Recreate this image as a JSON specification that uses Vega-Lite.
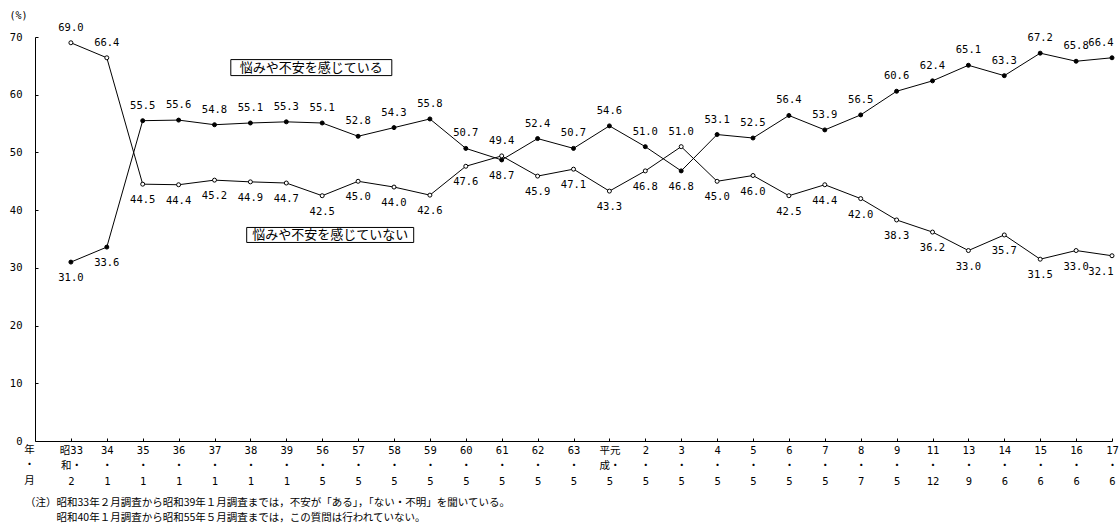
{
  "$schema": "https://vega.github.io/schema/vega-lite/v6.json",
  "width": 1077,
  "height": 404,
  "autosize": "none",
  "padding": {"left": 35, "top": 37, "right": 8, "bottom": 83},
  "background": "white",
  "config": {
    "view": {"stroke": null},
    "font": "DejaVu Sans Mono",
    "axis": {"domainColor": "black", "tickColor": "black", "labelColor": "black", "titleColor": "black", "grid": false}
  },
  "title": {
    "text": ["（注）昭和33年２月調査から昭和39年１月調査までは，不安が「ある」，「ない・不明」を聞いている。", "\u200b\u3000\u3000\u3000昭和40年１月調査から昭和55年５月調査までは，この質問は行われていない。"],
    "orient": "bottom",
    "anchor": "start",
    "frame": "group",
    "font": "Noto Sans CJK JP",
    "fontSize": 10.5,
    "fontWeight": "normal",
    "color": "black",
    "lineHeight": 15,
    "dx": -10,
    "offset": 11
  },
  "data": {
    "values": [
      {"t": "33|2", "s": "感じている", "v": 31.0},
      {"t": "34|1", "s": "感じている", "v": 33.6},
      {"t": "35|1", "s": "感じている", "v": 55.5},
      {"t": "36|1", "s": "感じている", "v": 55.6},
      {"t": "37|1", "s": "感じている", "v": 54.8},
      {"t": "38|1", "s": "感じている", "v": 55.1},
      {"t": "39|1", "s": "感じている", "v": 55.3},
      {"t": "56|5", "s": "感じている", "v": 55.1},
      {"t": "57|5", "s": "感じている", "v": 52.8},
      {"t": "58|5", "s": "感じている", "v": 54.3},
      {"t": "59|5", "s": "感じている", "v": 55.8},
      {"t": "60|5", "s": "感じている", "v": 50.7},
      {"t": "61|5", "s": "感じている", "v": 48.7},
      {"t": "62|5", "s": "感じている", "v": 52.4},
      {"t": "63|5", "s": "感じている", "v": 50.7},
      {"t": "元|5", "s": "感じている", "v": 54.6},
      {"t": "2|5", "s": "感じている", "v": 51.0},
      {"t": "3|5", "s": "感じている", "v": 46.8},
      {"t": "4|5", "s": "感じている", "v": 53.1},
      {"t": "5|5", "s": "感じている", "v": 52.5},
      {"t": "6|5", "s": "感じている", "v": 56.4},
      {"t": "7|5", "s": "感じている", "v": 53.9},
      {"t": "8|7", "s": "感じている", "v": 56.5},
      {"t": "9|5", "s": "感じている", "v": 60.6},
      {"t": "11|12", "s": "感じている", "v": 62.4},
      {"t": "13|9", "s": "感じている", "v": 65.1},
      {"t": "14|6", "s": "感じている", "v": 63.3},
      {"t": "15|6", "s": "感じている", "v": 67.2},
      {"t": "16|6", "s": "感じている", "v": 65.8},
      {"t": "17|6", "s": "感じている", "v": 66.4},
      {"t": "33|2", "s": "感じていない", "v": 69.0},
      {"t": "34|1", "s": "感じていない", "v": 66.4},
      {"t": "35|1", "s": "感じていない", "v": 44.5},
      {"t": "36|1", "s": "感じていない", "v": 44.4},
      {"t": "37|1", "s": "感じていない", "v": 45.2},
      {"t": "38|1", "s": "感じていない", "v": 44.9},
      {"t": "39|1", "s": "感じていない", "v": 44.7},
      {"t": "56|5", "s": "感じていない", "v": 42.5},
      {"t": "57|5", "s": "感じていない", "v": 45.0},
      {"t": "58|5", "s": "感じていない", "v": 44.0},
      {"t": "59|5", "s": "感じていない", "v": 42.6},
      {"t": "60|5", "s": "感じていない", "v": 47.6},
      {"t": "61|5", "s": "感じていない", "v": 49.4},
      {"t": "62|5", "s": "感じていない", "v": 45.9},
      {"t": "63|5", "s": "感じていない", "v": 47.1},
      {"t": "元|5", "s": "感じていない", "v": 43.3},
      {"t": "2|5", "s": "感じていない", "v": 46.8},
      {"t": "3|5", "s": "感じていない", "v": 51.0},
      {"t": "4|5", "s": "感じていない", "v": 45.0},
      {"t": "5|5", "s": "感じていない", "v": 46.0},
      {"t": "6|5", "s": "感じていない", "v": 42.5},
      {"t": "7|5", "s": "感じていない", "v": 44.4},
      {"t": "8|7", "s": "感じていない", "v": 42.0},
      {"t": "9|5", "s": "感じていない", "v": 38.3},
      {"t": "11|12", "s": "感じていない", "v": 36.2},
      {"t": "13|9", "s": "感じていない", "v": 33.0},
      {"t": "14|6", "s": "感じていない", "v": 35.7},
      {"t": "15|6", "s": "感じていない", "v": 31.5},
      {"t": "16|6", "s": "感じていない", "v": 33.0},
      {"t": "17|6", "s": "感じていない", "v": 32.1}
    ]
  },
  "encoding": {
    "x": {
      "field": "t",
      "type": "nominal",
      "sort": null,
      "scale": {"type": "point", "padding": 0.5, "align": 1},
      "axis": {
        "title": ["年", "・", "月"],
        "titleX": -6,
        "titleY": 3,
        "titleAlign": "center",
        "titleBaseline": "top",
        "titleFont": "Noto Sans CJK JP",
        "titleFontSize": 10.5,
        "titleFontWeight": "normal",
        "titleLineHeight": 15.5,
        "labelAngle": 0,
        "labelAlign": "center",
        "labelBaseline": "top",
        "labelFont": "DejaVu Sans Mono, Noto Sans CJK JP",
        "labelFontSize": 10.5,
        "labelLineHeight": 15.5,
        "labelPadding": 7,
        "tickSize": -3,
        "labelExpr": "datum.label == '33|2' ? ['昭33', '和・', '2'] : datum.label == '元|5' ? ['平元', '成・', '5'] : [split(datum.label, '|')[0], '・', split(datum.label, '|')[1]]"
      }
    },
    "y": {
      "field": "v",
      "type": "quantitative",
      "scale": {"domain": [0, 70], "nice": false},
      "axis": {
        "values": [0, 10, 20, 30, 40, 50, 60, 70],
        "title": "(%)",
        "titleAngle": 0,
        "titleX": -17,
        "titleY": -22,
        "titleAlign": "center",
        "titleBaseline": "middle",
        "titleFont": "DejaVu Sans Mono",
        "titleFontSize": 10,
        "titleFontWeight": "normal",
        "labelFontSize": 10.5,
        "labelPadding": 16,
        "tickSize": -3
      }
    }
  },
  "layer": [
    {
      "mark": {"type": "line", "color": "black", "strokeWidth": 1},
      "encoding": {"detail": {"field": "s"}}
    },
    {
      "mark": {"type": "point", "shape": "circle", "size": 16, "filled": true, "stroke": "black", "strokeWidth": 1, "opacity": 1},
      "encoding": {
        "fill": {"field": "s", "type": "nominal", "scale": {"domain": ["感じている", "感じていない"], "range": ["black", "white"]}, "legend": null}
      }
    },
    {
      "transform": [
        {"joinaggregate": [{"op": "max", "field": "v", "as": "vmax"}], "groupby": ["t"]},
        {"filter": "datum.v == datum.vmax && datum.t != '17|6'"}
      ],
      "mark": {"type": "text", "dy": -15, "fontSize": 10.5, "font": "DejaVu Sans Mono", "color": "black", "baseline": "middle"},
      "encoding": {"text": {"field": "v", "format": ".1f"}}
    },
    {
      "transform": [
        {"joinaggregate": [{"op": "max", "field": "v", "as": "vmax"}], "groupby": ["t"]},
        {"filter": "datum.v < datum.vmax && datum.t != '17|6'"}
      ],
      "mark": {"type": "text", "dy": 16, "fontSize": 10.5, "font": "DejaVu Sans Mono", "color": "black", "baseline": "middle"},
      "encoding": {"text": {"field": "v", "format": ".1f"}}
    },
    {
      "transform": [
        {"joinaggregate": [{"op": "max", "field": "v", "as": "vmax"}], "groupby": ["t"]},
        {"filter": "datum.v == datum.vmax && datum.t == '17|6'"}
      ],
      "mark": {"type": "text", "dy": -15, "xOffset": -11, "fontSize": 10.5, "font": "DejaVu Sans Mono", "color": "black", "baseline": "middle"},
      "encoding": {"text": {"field": "v", "format": ".1f"}}
    },
    {
      "transform": [
        {"joinaggregate": [{"op": "max", "field": "v", "as": "vmax"}], "groupby": ["t"]},
        {"filter": "datum.v < datum.vmax && datum.t == '17|6'"}
      ],
      "mark": {"type": "text", "dy": 16, "xOffset": -11, "fontSize": 10.5, "font": "DejaVu Sans Mono", "color": "black", "baseline": "middle"},
      "encoding": {"text": {"field": "v", "format": ".1f"}}
    },
    {
      "data": {"values": [{"t": "39|1", "v": 64.7, "label": "悩みや不安を感じている"}]},
      "mark": {"type": "rect", "width": 161, "height": 16, "fill": "white", "stroke": "black", "strokeWidth": 1, "xOffset": 25},
      "encoding": {}
    },
    {
      "data": {"values": [{"t": "39|1", "v": 64.7, "label": "悩みや不安を感じている"}]},
      "mark": {"type": "text", "font": "Noto Sans CJK JP", "fontSize": 13, "color": "black", "align": "center", "baseline": "middle", "xOffset": 25},
      "encoding": {"text": {"field": "label"}}
    },
    {
      "data": {"values": [{"t": "56|5", "v": 35.7, "label": "悩みや不安を感じていない"}]},
      "mark": {"type": "rect", "width": 167, "height": 15, "fill": "white", "stroke": "black", "strokeWidth": 1, "xOffset": 8},
      "encoding": {}
    },
    {
      "data": {"values": [{"t": "56|5", "v": 35.7, "label": "悩みや不安を感じていない"}]},
      "mark": {"type": "text", "font": "Noto Sans CJK JP", "fontSize": 13, "color": "black", "align": "center", "baseline": "middle", "xOffset": 8},
      "encoding": {"text": {"field": "label"}}
    }
  ]
}
